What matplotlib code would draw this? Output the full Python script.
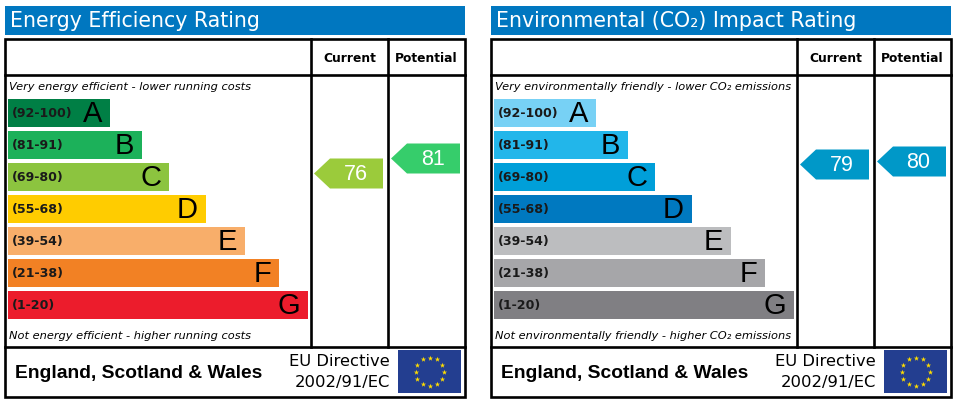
import matplotlib
matplotlib.use('Agg')
import matplotlib.pyplot as plt
from matplotlib.patches import Rectangle, Polygon
import numpy as np

# data
letters = ['A', 'B', 'C', 'D', 'E', 'F', 'G']
ranges = ['(92-100)', '(81-91)', '(69-80)', '(55-68)', '(39-54)', '(21-38)', '(1-20)']
range_low = [92, 81, 69, 55, 39, 21, 1]

energy_title = 'Energy Efficiency Rating'
energy_top = 'Very energy efficient - lower running costs'
energy_bottom = 'Not energy efficient - higher running costs'
energy_current = 76
energy_potential = 81

env_title = 'Environmental (CO\u2082) Impact Rating'
env_top = 'Very environmentally friendly - lower CO\u2082 emissions'
env_bottom = 'Not environmentally friendly - higher CO\u2082 emissions'
env_current = 79
env_potential = 80

# styles
energy_colors = ['#007f45', '#1cb15a', '#8cc43f', '#ffcc00', '#f8ae6a', '#f28124', '#ec1c2c']
energy_arrow_colors = ['#007f45', '#36cd6b', '#9bcb3b', '#ffcc00', '#f8ae6a', '#f28124', '#ec1c2c']
env_colors = ['#77d1f5', '#22b6ea', '#009fd9', '#0079c0', '#bcbdbf', '#a6a6a9', '#807f83']
env_arrow_colors = ['#77d1f5', '#22b6ea', '#0098c8', '#0079c0', '#bcbdbf', '#a6a6a9', '#807f83']
title_blue = '#0077c0'

# layout (pixels)
bar_ends = [110, 142, 169, 206, 245, 279, 308]
bar_top0, bar_pitch, bar_h = 99, 32, 28
panel_offsets = [0, 486]

W, H = 957, 404
fig = plt.figure(figsize=(W / 100, H / 100), dpi=100)
ax = fig.add_axes([0, 0, 1, 1])
ax.set_xlim(0, W)
ax.set_ylim(H, 0)
ax.axis('off')

LW = 1.9
sans = ['DejaVu Sans']
arial = ['Liberation Sans', 'DejaVu Sans']


def band_of(v):
    for i, lo in enumerate(range_low):
        if v >= lo:
            return i
    return len(range_low) - 1


def value_y(v):
    # vertical position of a rating arrow
    return 401.5 - 3 * v


def arrow(x0, x1, v, color):
    yc = value_y(v)
    pts = [(x0, yc), (x0 + 16, yc - 15), (x1, yc - 15), (x1, yc + 15), (x0 + 16, yc + 15)]
    ax.add_patch(Polygon(pts, closed=True, facecolor=color, edgecolor='none'))
    ax.text((x0 + 16 + x1) / 2 - 1, yc + 1, str(v), color='white', fontsize=15.5,
            family=arial, ha='center', va='center')


def draw_panel(ox, title, top_note, bottom_note, colors, arrow_colors, current, potential):
    # title bar
    ax.add_patch(Rectangle((ox + 5, 6), 460, 29, facecolor=title_blue, edgecolor='none'))
    ax.text(ox + 10, 21, title, color='white', fontsize=14.8, family=sans, va='center')

    # frame
    ax.add_patch(Rectangle((ox + 5, 39), 460, 358, facecolor='white', edgecolor='black', lw=LW))
    ax.plot([ox + 5, ox + 465], [75, 75], color='black', lw=LW)
    ax.plot([ox + 5, ox + 465], [347, 347], color='black', lw=LW)
    for cx in (311, 388):
        ax.plot([ox + cx, ox + cx], [39, 347], color='black', lw=LW)

    ax.text(ox + 349.5, 58, 'Current', fontsize=8.8, weight='bold', family=sans,
            ha='center', va='center')
    ax.text(ox + 426.5, 58, 'Potential', fontsize=8.8, weight='bold', family=sans,
            ha='center', va='center')

    ax.text(ox + 9, 87, top_note, fontsize=8.2, style='italic', family=sans, va='center')
    ax.text(ox + 9, 336, bottom_note, fontsize=8.2, style='italic', family=sans, va='center')

    for i, (let, rng) in enumerate(zip(letters, ranges)):
        top = bar_top0 + i * bar_pitch
        ax.add_patch(Rectangle((ox + 8, top), bar_ends[i] - 8, bar_h,
                               facecolor=colors[i], edgecolor='none'))
        ax.text(ox + 12, top + bar_h / 2 + 0.5, rng, fontsize=9.1, weight='bold',
                family=sans, va='center', color='#1a1a1a')
        ax.text(ox + bar_ends[i] - 8, top + bar_h / 2 + 1.5, let, fontsize=21,
                family=arial, ha='right', va='center')

    arrow(ox + 314, ox + 383, current, arrow_colors[band_of(current)])
    arrow(ox + 391, ox + 460, potential, arrow_colors[band_of(potential)])

    # footer
    ax.text(ox + 15, 374, 'England, Scotland & Wales', fontsize=13.9, weight='bold',
            family=arial, va='center')
    ax.text(ox + 390, 362, 'EU Directive', fontsize=11.8, family=sans, ha='right', va='center')
    ax.text(ox + 390, 382, '2002/91/EC', fontsize=11.8, family=sans, ha='right', va='center')

    # EU flag
    ax.add_patch(Rectangle((ox + 398, 350), 63, 43, facecolor='#233e90', edgecolor='none'))
    ang = np.arange(12) * np.pi / 6
    ax.scatter(ox + 429.5 + 14 * np.cos(ang), 371.5 + 14 * np.sin(ang), marker='*',
               s=16, color='#ffdd00', linewidths=0)


draw_panel(panel_offsets[0], energy_title, energy_top, energy_bottom,
           energy_colors, energy_arrow_colors, energy_current, energy_potential)
draw_panel(panel_offsets[1], env_title, env_top, env_bottom,
           env_colors, env_arrow_colors, env_current, env_potential)

fig.savefig('out.png', dpi=100)
